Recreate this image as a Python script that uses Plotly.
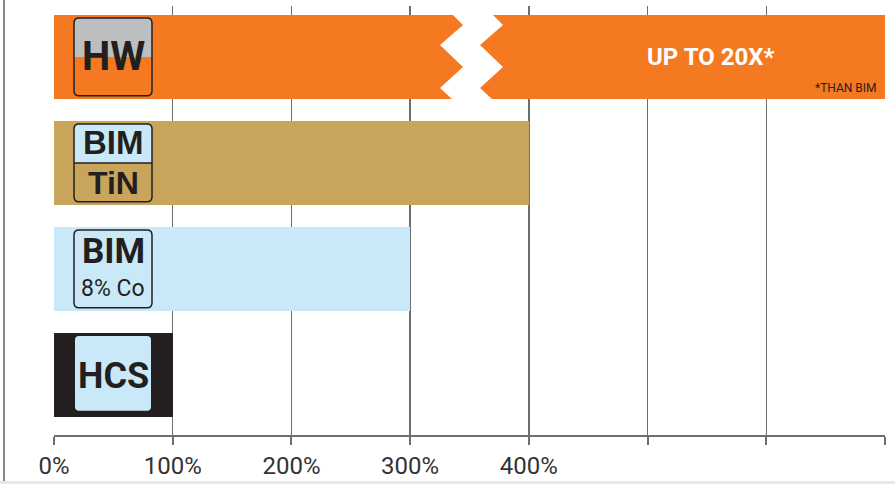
import plotly.graph_objects as go

# ---------- data ----------
tools = ["HW", "BIM TiN", "BIM 8% Co", "HCS"]
life_pct = [700, 400, 300, 100]
bar_colors = ["#f47920", "#c8a55a", "#c9e9f8", "#231f20"]
tick_vals = [0, 100, 200, 300, 400, 500, 600, 700]
tick_text = ["0%", "100%", "200%", "300%", "400%", "", "", ""]

NARROW = "Roboto, Liberation Sans, sans-serif"
BOLD = "Liberation Sans, Arial, sans-serif"
INK = "#231f20"
GRID = "#6d6e71"

# plot geometry (px) used to convert decorations into data units
W, H = 895, 484
ML, MR, MT, MB = 54, 10, 6, 49
PW, PH = W - ML - MR, H - MT - MB
X_MAX = 700
Y_RANGE = [-0.566, 3.48]
px_x = X_MAX / PW                       # % per px
px_y = (Y_RANGE[1] - Y_RANGE[0]) / PH   # category units per px
BAR_W = 0.79

order = tools[::-1]  # HCS at bottom
ypos = {t: order.index(t) for t in tools}

fig = go.Figure()
fig.add_trace(go.Bar(
    y=tools, x=life_pct, orientation="h",
    marker=dict(color=bar_colors, line=dict(width=0)),
    width=BAR_W, hoverinfo="skip",
))


def rrect(x0, x1, y0, y1, r=5):
    """rounded rect path; x in %, y in category units, r in px"""
    rx, ry = r * px_x, r * px_y
    return (f"M{x0+rx},{y0} L{x1-rx},{y0} Q{x1},{y0} {x1},{y0+ry} "
            f"L{x1},{y1-ry} Q{x1},{y1} {x1-rx},{y1} L{x0+rx},{y1} "
            f"Q{x0},{y1} {x0},{y1-ry} L{x0},{y0+ry} Q{x0},{y0} {x0+rx},{y0} Z")


shapes = []
bx0, bx1 = 20 * px_x, 98 * px_x        # badge spans px 74..152
inset = 3 * px_y
half = BAR_W / 2

# HW badge: grey top half, outlined
yc = ypos["HW"]
shapes.append(dict(type="path", path=rrect(bx0, bx1, yc, yc + half - inset),
                   fillcolor="#bcbec0", line=dict(width=0)))
shapes.append(dict(type="rect", x0=bx0, x1=bx1, y0=yc, y1=yc + 0.1,
                   fillcolor="#bcbec0", line=dict(width=0)))
shapes.append(dict(type="path", path=rrect(bx0, bx1, yc - half + inset, yc + half - inset),
                   line=dict(color=INK, width=1.5)))

# BIM TiN badge: blue top half, tan lower, divider
yc = ypos["BIM TiN"]
shapes.append(dict(type="path", path=rrect(bx0, bx1, yc, yc + half - inset),
                   fillcolor="#c9e9f8", line=dict(width=0)))
shapes.append(dict(type="rect", x0=bx0, x1=bx1, y0=yc, y1=yc + 0.1,
                   fillcolor="#c9e9f8", line=dict(width=0)))
shapes.append(dict(type="line", x0=bx0, x1=bx1, y0=yc, y1=yc,
                   line=dict(color=INK, width=1.5)))
shapes.append(dict(type="path", path=rrect(bx0, bx1, yc - half + inset, yc + half - inset),
                   line=dict(color=INK, width=1.5)))

# BIM 8% Co badge
yc = ypos["BIM 8% Co"]
shapes.append(dict(type="path", path=rrect(bx0, bx1, yc - half + inset, yc + half - inset),
                   fillcolor="#c9e9f8", line=dict(color=INK, width=1.5)))

# HCS badge (light blue on black)
yc = ypos["HCS"]
shapes.append(dict(type="path", path=rrect(21 * px_x, 97 * px_x, yc - half + 6 * px_y, yc + half - 3 * px_y, r=4),
                   fillcolor="#c9e9f8", line=dict(width=0)))

# zigzag break in the HW bar (white band, 40px wide)
yc = ypos["HW"]
zz_px = [(399, -42), (409, -32), (386, -12), (409, 10), (386, 31), (398, 42)]
left = [(x * px_x, yc - dy * px_y) for x, dy in zz_px]
right = [(x + 40 * px_x, y) for x, y in left]
pts = left + right[::-1]
path = "M" + " L".join(f"{x},{y}" for x, y in pts) + " Z"
shapes.append(dict(type="path", path=path, fillcolor="white", line=dict(width=0)))

# outer frame: left rule and bottom strip
shapes.append(dict(type="line", xref="paper", yref="paper",
                   x0=-50 / PW, x1=-50 / PW, y0=-(482 - 435) / PH, y1=1 + MT / PH,
                   line=dict(color="#8a8a8a", width=2)))
shapes.append(dict(type="rect", xref="paper", yref="paper",
                   x0=-ML / PW, x1=1 + MR / PW, y0=-(484 - 435) / PH, y1=-(481 - 435) / PH,
                   fillcolor="#e8e8e8", line=dict(width=0)))

ann = []
def label(text, y, x_px=113, yshift=0, size=40, family=NARROW, color=INK, bold=True, xanchor="center"):
    t = f"<b>{text}</b>" if bold else text
    ann.append(dict(x=(x_px - ML) * px_x, y=y, text=t, showarrow=False, xanchor=xanchor,
                    yanchor="middle", yshift=yshift,
                    font=dict(family=family, size=size, color=color)))

label("HW", ypos["HW"], size=40)
label("BIM", ypos["BIM TiN"], yshift=20, size=33, family=BOLD)
label("TiN", ypos["BIM TiN"], yshift=-20, size=32, family=BOLD)
label("BIM", ypos["BIM 8% Co"], yshift=17, size=35)
label("8% Co", ypos["BIM 8% Co"], yshift=-20, size=23, bold=False)
label("HCS", ypos["HCS"], yshift=-1, size=36)
label("UP TO 20X*", ypos["HW"], x_px=710, size=24, color="white")
label("*THAN BIM", ypos["HW"], x_px=879, yshift=-31, size=12, bold=False, xanchor="right")

fig.update_layout(
    width=W, height=H,
    margin=dict(l=ML, r=MR, t=MT, b=MB, autoexpand=False),
    paper_bgcolor="white", plot_bgcolor="white",
    showlegend=False, bargap=0,
    shapes=shapes, annotations=ann,
    xaxis=dict(range=[0, X_MAX], tickvals=tick_vals, ticktext=tick_text,
               showgrid=True, gridcolor=GRID, gridwidth=1.5,
               showline=True, linecolor=GRID, linewidth=2,
               ticks="outside", ticklen=8, tickwidth=2, tickcolor=GRID,
               zeroline=False, fixedrange=True, automargin=False,
               tickfont=dict(family=NARROW, size=24, color="#333333")),
    yaxis=dict(type="category", categoryorder="array", categoryarray=order,
               range=Y_RANGE, showticklabels=False, showgrid=False,
               zeroline=False, showline=False, ticks="", automargin=False,
               fixedrange=True),
)

# drop the default page margin so the figure sits at the window's corner
fig.write_html("out.html", config={"displayModeBar": False, "staticPlot": True},
               post_script="document.body.style.margin='0';")
